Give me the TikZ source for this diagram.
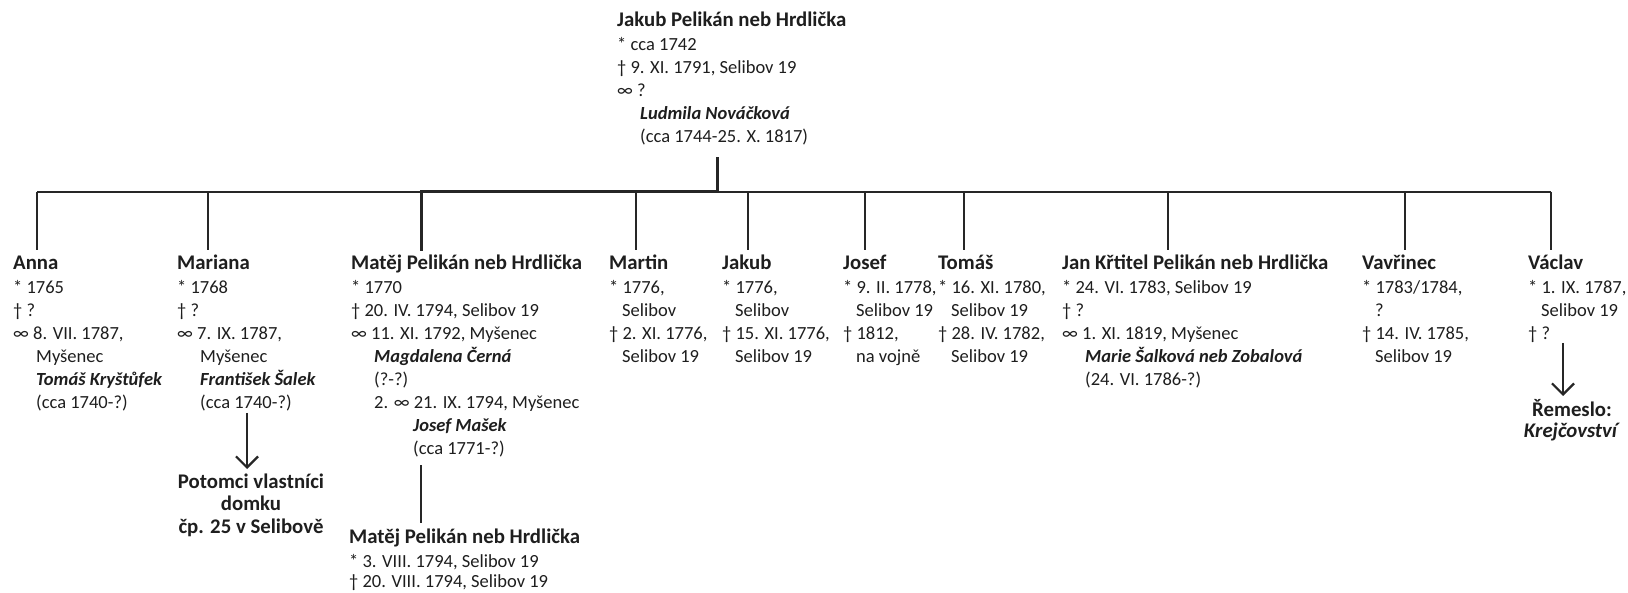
\documentclass[tikz,border=0pt]{standalone}
\usepackage{fontspec}
\setmainfont{Carlito}
\usetikzlibrary{arrows.meta}
\definecolor{txt}{HTML}{1E1E1E}
\newcommand{\hi}{\hspace*{23pt}}
\newcommand{\hs}{\hspace*{13pt}}
\newcommand{\tl}[1]{{\rule{0pt}{22pt}\fontsize{20.8}{23}\selectfont\bfseries #1}}
\newcommand{\spname}[1]{\textbf{\textit{#1}}}
\begin{document}
\begin{tikzpicture}[x=1pt,y=-1pt,
  person/.style={anchor=north west, align=left, inner sep=0pt, font=\fontsize{18.5}{23}\selectfont, text=txt},
  note/.style={anchor=north, align=center, inner sep=0pt, text=txt},
  thin/.style={line width=1.5pt, black!85},
  thick/.style={line width=3pt, black!85},
  arr/.style={line width=2.2pt, black!85, -{Straight Barb[length=11pt,width=22pt]}}]
\path[use as bounding box, fill=white] (0,0) rectangle (1628,593);

% parent
\node[person] (jakubP) at (617,4.7) {\tl{Jakub Pelikán neb Hrdlička}\\[1pt]
* cca 1742\\
† 9. XI. 1791, Selibov 19\\
∞ ?\\
\hi\spname{Ludmila Nováčková}\\
\hi(cca 1744-25. X. 1817)};

% children
\node[person] (anna) at (13,247.7) {\tl{Anna}\\[1pt]
* 1765\\
† ?\\
∞ 8. VII. 1787,\\
\hi Myšenec\\
\hi\spname{Tomáš Kryštůfek}\\
\hi(cca 1740-?)};

\node[person] (mariana) at (177,247.7) {\tl{Mariana}\\[1pt]
* 1768\\
† ?\\
∞ 7. IX. 1787,\\
\hi Myšenec\\
\hi\spname{František Šalek}\\
\hi(cca 1740-?)};

\node[person] (matej) at (351,247.7) {\tl{Matěj Pelikán neb Hrdlička}\\[1pt]
* 1770\\
† 20. IV. 1794, Selibov 19\\
∞ 11. XI. 1792, Myšenec\\
\hi\spname{Magdalena Černá}\\
\hi(?-?)\\
\hi 2. ∞ 21. IX. 1794, Myšenec\\
\hspace*{62pt}\spname{Josef Mašek}\\
\hspace*{62pt}(cca 1771-?)};

\node[person] (martin) at (609,247.7) {\tl{Martin}\\[1pt]
* 1776,\\
\hs Selibov\\
† 2. XI. 1776,\\
\hs Selibov 19};

\node[person] (jakub) at (722,247.7) {\tl{Jakub}\\[1pt]
* 1776,\\
\hs Selibov\\
† 15. XI. 1776,\\
\hs Selibov 19};

\node[person] (josef) at (843,247.7) {\tl{Josef}\\[1pt]
* 9. II. 1778,\\
\hs Selibov 19\\
† 1812,\\
\hs na vojně};

\node[person] (tomas) at (938,247.7) {\tl{Tomáš}\\[1pt]
* 16. XI. 1780,\\
\hs Selibov 19\\
† 28. IV. 1782,\\
\hs Selibov 19};

\node[person] (jan) at (1062,247.7) {\tl{Jan Křtitel Pelikán neb Hrdlička}\\[1pt]
* 24. VI. 1783, Selibov 19\\
† ?\\
∞ 1. XI. 1819, Myšenec\\
\hi\spname{Marie Šalková neb Zobalová}\\
\hi(24. VI. 1786-?)};

\node[person] (vavrinec) at (1362,247.7) {\tl{Vavřinec}\\[1pt]
* 1783/1784,\\
\hs ?\\
† 14. IV. 1785,\\
\hs Selibov 19};

\node[person] (vaclav) at (1528,247.7) {\tl{Václav}\\[1pt]
* 1. IX. 1787,\\
\hs Selibov 19\\
† ?};

% grandson
\node[person] (matej2) at (349,521.7) {\tl{Matěj Pelikán neb Hrdlička}\\[1pt]
* 3. VIII. 1794, Selibov 19\\[-3pt]
† 20. VIII. 1794, Selibov 19};

% notes
\node[note, font=\fontsize{20.8}{22.5}\selectfont\bfseries] (potomci) at (251,466) {\rule{0pt}{22pt}Potomci vlastníci\\domku\\čp. 25 v Selibově};
\node[note, font=\fontsize{20.8}{21}\selectfont\bfseries] (remeslo) at (1572,394.7) {\rule{0pt}{22pt}Řemeslo:\\\textit{Krejčovství}};

% coordinates
\coordinate (pTop) at (717,159);
\coordinate (pBar) at (717,192);
\coordinate (barL) at (37,192);
\coordinate (barR) at (1551,192);
\foreach \n/\x in {anna/37, mariana/208, matej/421, martin/636, jakub/748, josef/865, tomas/964, jan/1168, vavrinec/1405, vaclav/1551}{
  \coordinate (b-\n) at (\x,192);
  \coordinate (t-\n) at (\x,250);
}
\coordinate (sonTop) at (421,465);
\coordinate (sonBot) at (421,523);
\coordinate (marA) at (247,413);
\coordinate (marB) at (247,469);
\coordinate (vacA) at (1563,343);
\coordinate (vacB) at (1563,396);

% connectors
\draw[thin] (barL) -- (barR);
\foreach \n in {anna, mariana, martin, jakub, josef, tomas, jan, vavrinec, vaclav}{
  \draw[thin] (b-\n) -- (t-\n);
}
\draw[thick, line cap=rect] (pTop) -- (pBar) -- (b-matej) -- (t-matej);
\draw[line width=2pt, black!85] (sonTop) -- (sonBot);
\draw[arr] (marA) -- (marB);
\draw[arr] (vacA) -- (vacB);
\end{tikzpicture}
\end{document}
